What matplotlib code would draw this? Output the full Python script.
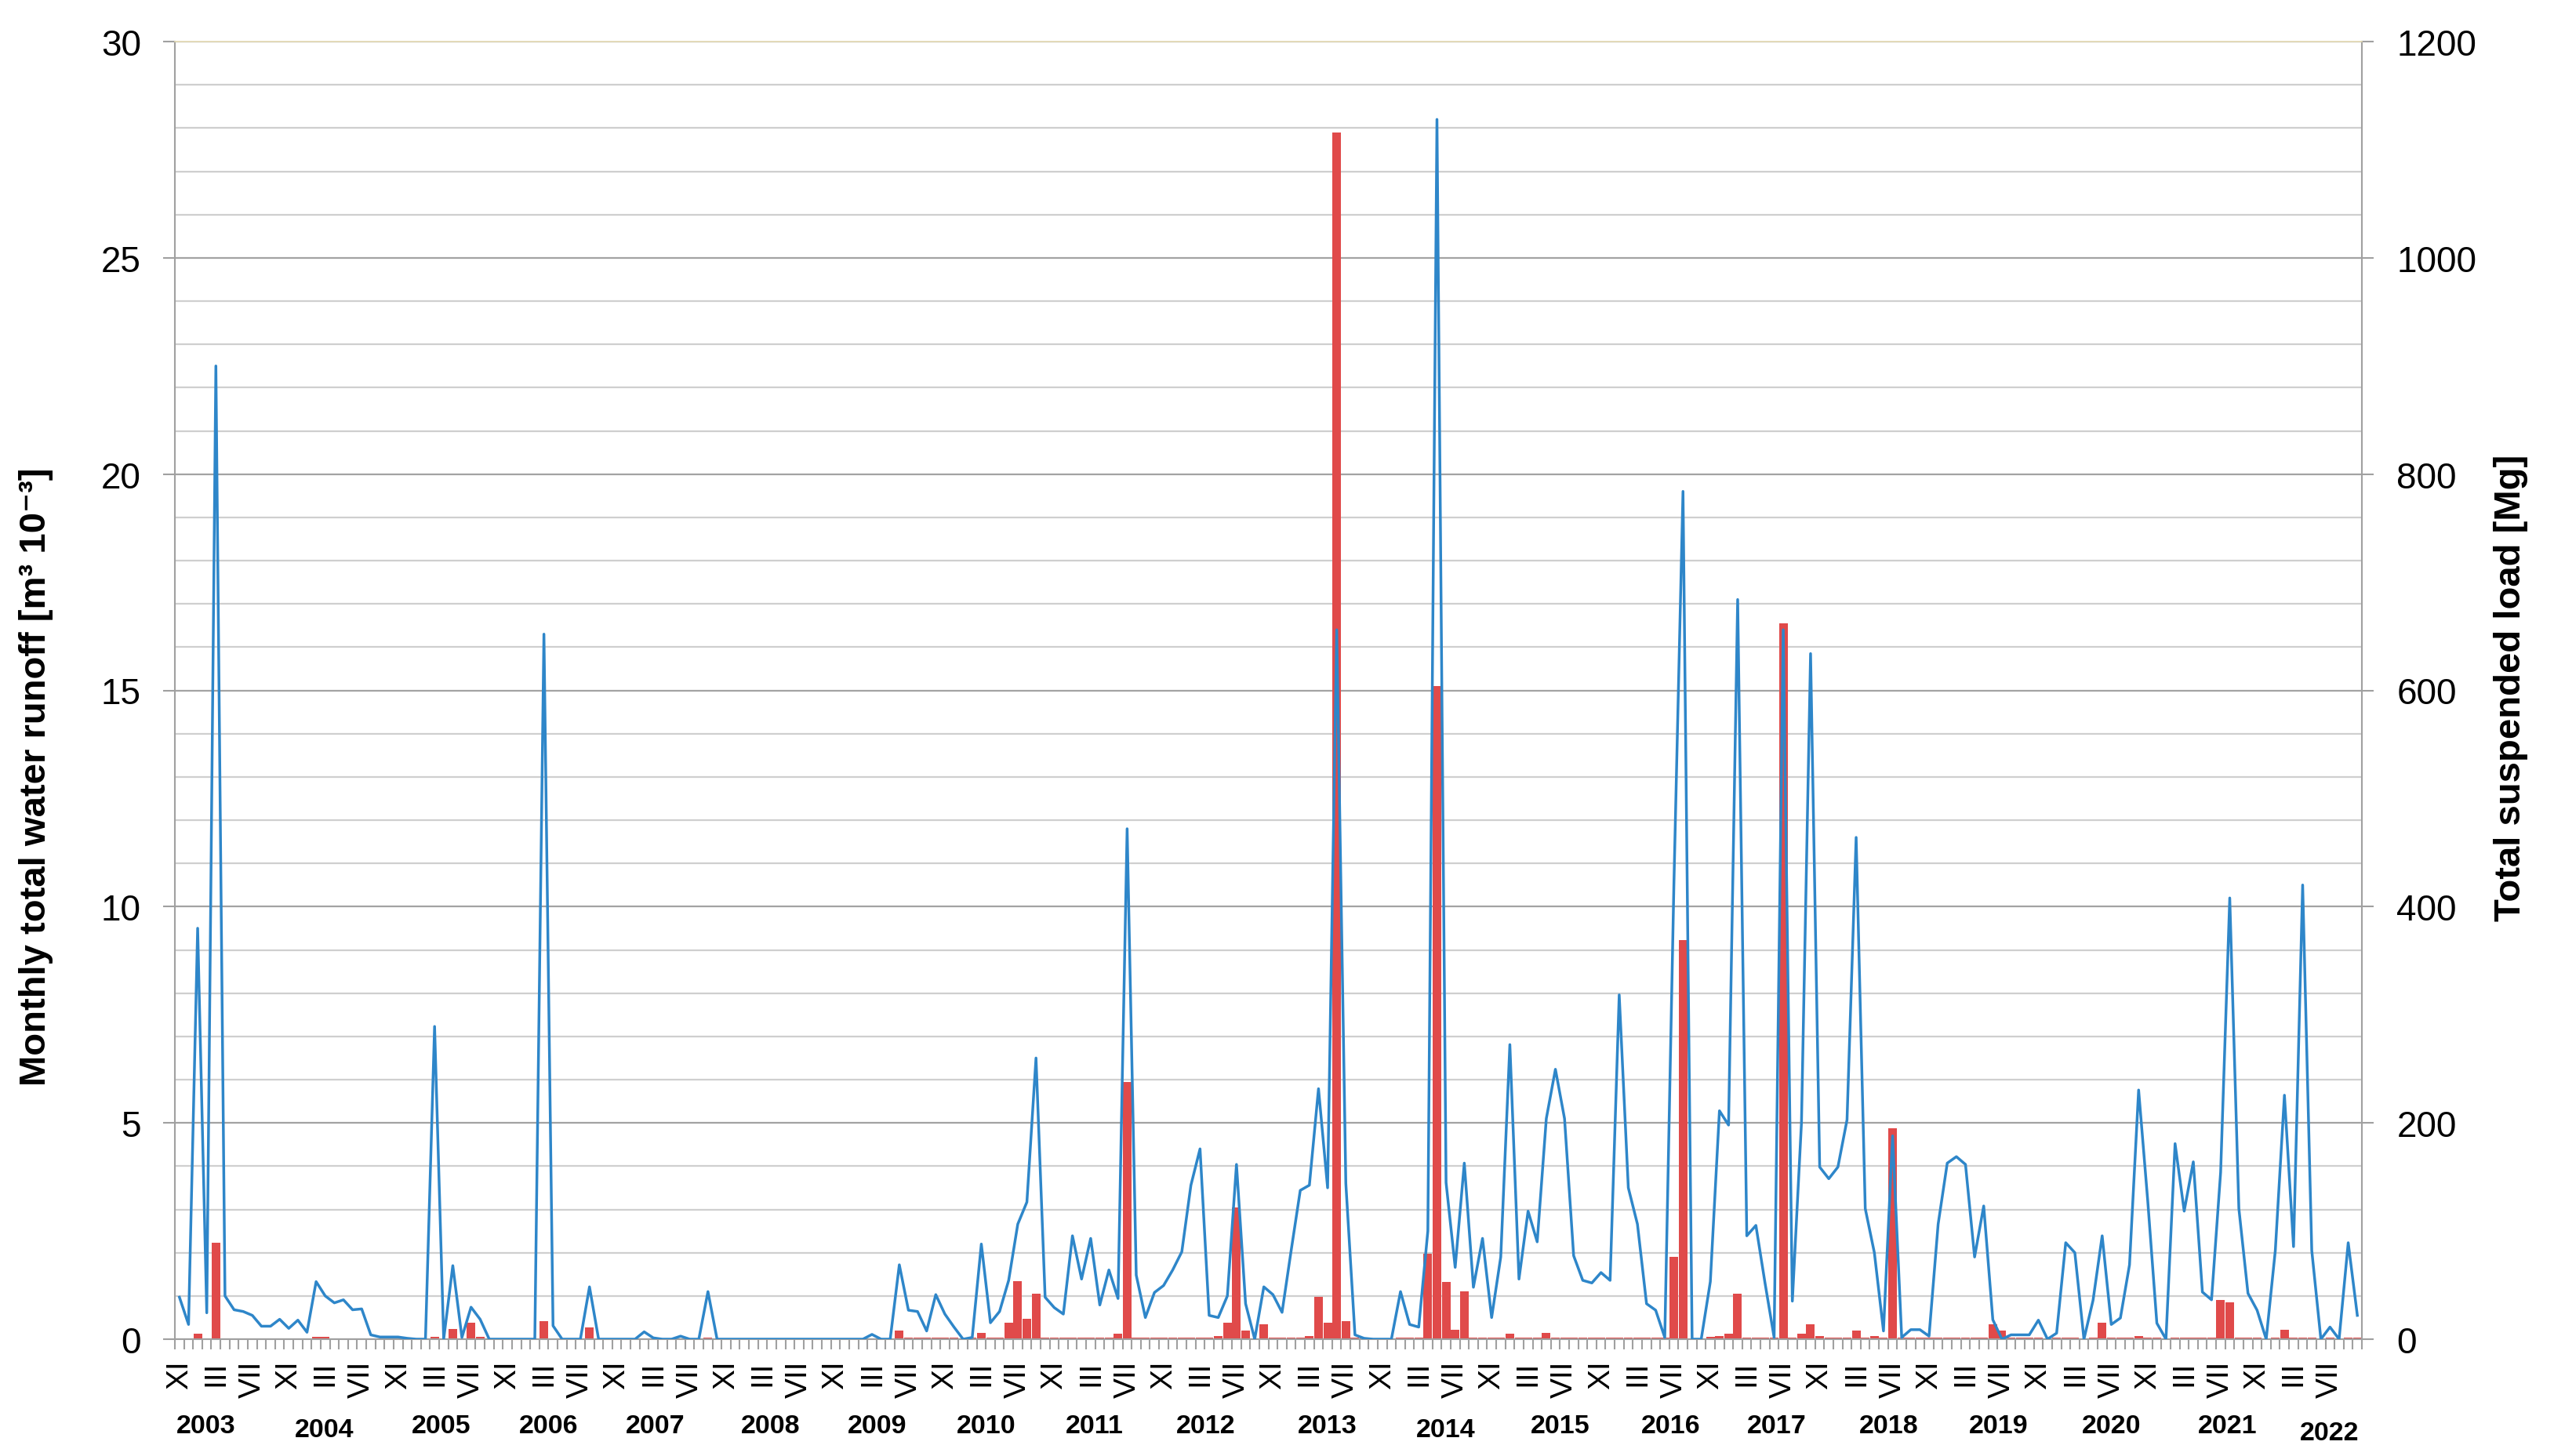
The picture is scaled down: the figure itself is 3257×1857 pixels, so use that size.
import numpy as np
import matplotlib
matplotlib.use("Agg")
import matplotlib.pyplot as plt
from matplotlib.ticker import MultipleLocator, FixedLocator, NullFormatter

plt.rcParams["font.family"] = ["Liberation Sans", "DejaVu Sans"]

# monthly total water runoff, hydrological years XI..X  (left axis)
runoff_2003 = [0.97, 0.34, 9.5, 0.61, 22.5, 1.0, 0.68, 0.64, 0.55, 0.30, 0.30, 0.46]
runoff_2004 = [0.25, 0.44, 0.16, 1.33, 1.0, 0.84, 0.91, 0.68, 0.70, 0.10, 0.05, 0.05]
runoff_2005 = [0.05, 0.02, 0.0, 0.0, 7.23, 0.0, 1.70, 0.04, 0.74, 0.46, 0.0, 0.0]
runoff_2006 = [0.0, 0.0, 0.0, 0.0, 16.3, 0.31, 0.0, 0.0, 0.0, 1.21, 0.0, 0.0]
runoff_2007 = [0.0, 0.0, 0.0, 0.17, 0.03, 0.0, 0.0, 0.07, 0.0, 0.0, 1.10, 0.0]
runoff_2008 = [0.0, 0.0, 0.0, 0.0, 0.0, 0.0, 0.0, 0.0, 0.0, 0.0, 0.0, 0.0]
runoff_2009 = [0.0, 0.0, 0.0, 0.0, 0.11, 0.0, 0.0, 1.72, 0.67, 0.64, 0.19, 1.03]
runoff_2010 = [0.58, 0.28, 0.0, 0.04, 2.2, 0.38, 0.64, 1.36, 2.66, 3.17, 6.5, 0.97]
runoff_2011 = [0.73, 0.58, 2.39, 1.39, 2.33, 0.79, 1.6, 0.94, 11.8, 1.48, 0.5, 1.08]
runoff_2012 = [1.24, 1.6, 2.02, 3.56, 4.4, 0.55, 0.5, 1.0, 4.04, 0.82, 0.0, 1.21]
runoff_2013 = [1.03, 0.62, 2.05, 3.44, 3.56, 5.79, 3.5, 16.4, 3.6, 0.1, 0.02, 0.0]
runoff_2014 = [0.0, 0.0, 1.1, 0.34, 0.28, 2.5, 28.2, 3.62, 1.66, 4.07, 1.2, 2.33]
runoff_2015 = [0.5, 1.9, 6.81, 1.39, 2.96, 2.25, 5.1, 6.24, 5.1, 1.93, 1.36, 1.3]
runoff_2016 = [1.54, 1.36, 7.96, 3.5, 2.66, 0.82, 0.67, 0.04, 10.5, 19.6, 0.0, 0.0]
runoff_2017 = [1.33, 5.28, 4.95, 17.1, 2.39, 2.63, 1.3, 0.04, 16.4, 0.88, 5.0, 15.85]
runoff_2018 = [3.98, 3.71, 3.98, 5.07, 11.6, 3.02, 2.0, 0.19, 4.7, 0.04, 0.22, 0.22]
runoff_2019 = [0.07, 2.66, 4.07, 4.22, 4.04, 1.9, 3.08, 0.45, 0.0, 0.1, 0.1, 0.1]
runoff_2020 = [0.44, 0.0, 0.14, 2.23, 2.0, 0.0, 0.9, 2.39, 0.34, 0.49, 1.72, 5.76]
runoff_2021 = [3.2, 0.37, 0.0, 4.52, 2.96, 4.1, 1.09, 0.91, 3.86, 10.2, 3.02, 1.06]
runoff_2022 = [0.67, 0.0, 2.05, 5.64, 2.14, 10.5, 2.05, 0.0, 0.28, 0.0, 2.23, 0.55]

# monthly total suspended load [Mg]  (right axis)
load_2003 = [0, 0, 5, 0, 89, 0, 0, 0, 0, 0, 0, 0]
load_2004 = [0, 0, 0, 2, 2, 0, 0, 0, 0, 0, 0, 0]
load_2005 = [0, 0, 0, 0, 2, 0, 9.4, 0, 15, 2, 0, 0]
load_2006 = [0, 0, 0, 0, 17, 0, 0, 0, 0, 11, 0, 0]
load_2007 = [0, 0, 0, 0, 0, 0, 0, 0, 0, 0, 1.5, 0]
load_2008 = [0, 0, 0, 0, 0, 0, 0, 0, 0, 0, 0, 0]
load_2009 = [0, 0, 0, 0, 1, 0, 0, 8, 1.5, 1.5, 1.5, 1.5]
load_2010 = [1.5, 1.5, 0, 1.5, 6, 1.5, 1.5, 15, 54, 19, 42, 1.5]
load_2011 = [1.5, 1.5, 1.5, 1.5, 1.5, 1.5, 1.5, 5, 238, 1.5, 1.5, 1.5]
load_2012 = [1.5, 1.5, 1.5, 1.5, 1.5, 1.5, 3, 15, 122, 8, 0, 14]
load_2013 = [1.5, 1.5, 1.5, 1.5, 3, 39, 15, 1116, 17, 1.5, 1.5, 0]
load_2014 = [0, 0, 1.5, 1.5, 1.5, 79, 604, 53, 9, 44, 1.5, 1.5]
load_2015 = [1.5, 1.5, 5, 1.5, 1.5, 1.5, 6, 1.5, 1.5, 1.5, 1.5, 1.5]
load_2016 = [1.5, 1.5, 1.5, 1.5, 1.5, 1.5, 1.5, 1.5, 76, 369, 0, 0]
load_2017 = [2, 3, 5, 42, 1.5, 1.5, 1.5, 1.5, 662, 1.5, 5, 14]
load_2018 = [3, 1.5, 1.5, 1.5, 8, 1.5, 3, 1.5, 195, 1.5, 1.5, 1.5]
load_2019 = [1.5, 1.5, 1.5, 1.5, 1.5, 1.5, 1.5, 14, 8, 1.5, 1.5, 1.5]
load_2020 = [1.5, 0, 1.5, 1.5, 1.5, 0, 1.5, 15, 1.5, 1.5, 1.5, 3]
load_2021 = [1.5, 1.5, 0, 1.5, 1.5, 1.5, 1.5, 1.5, 36, 34, 1.5, 1.5]
load_2022 = [1.5, 0, 1.5, 9, 1.5, 1.5, 1.5, 0, 1.5, 0, 1.5, 1.5]

years = ["2003", "2004", "2005", "2006", "2007", "2008", "2009", "2010", "2011", "2012",
         "2013", "2014", "2015", "2016", "2017", "2018", "2019", "2020", "2021", "2022"]
month_labels = ["XI", "III", "VII"]

runoff = (runoff_2003 + runoff_2004 + runoff_2005 + runoff_2006 + runoff_2007 + runoff_2008
          + runoff_2009 + runoff_2010 + runoff_2011 + runoff_2012 + runoff_2013 + runoff_2014
          + runoff_2015 + runoff_2016 + runoff_2017 + runoff_2018 + runoff_2019 + runoff_2020
          + runoff_2021 + runoff_2022)
load = (load_2003 + load_2004 + load_2005 + load_2006 + load_2007 + load_2008
        + load_2009 + load_2010 + load_2011 + load_2012 + load_2013 + load_2014
        + load_2015 + load_2016 + load_2017 + load_2018 + load_2019 + load_2020
        + load_2021 + load_2022)

# where the year captions sit (in month units) - placed by hand in the original
year_x = [2.9, 15.9, 28.7, 40.5, 52.2, 64.9, 76.6, 88.5, 100.4, 112.6,
          126.0, 139.0, 151.5, 163.7, 175.3, 187.6, 199.6, 212.0, 224.8, 235.9]
year_dy = [0, -0.003, 0, 0, 0, 0, 0, 0, 0, 0, 0, -0.003, 0, 0, 0, 0, 0, 0, 0, -0.006]

W, H = 3257, 1858
fig = plt.figure(figsize=(W / 100, H / 100), dpi=100)
ax = fig.add_axes([223 / W, 1 - 1709 / H, (3012 - 223) / W, (1709 - 54) / H])
ax2 = ax.twinx()
ax.set_zorder(ax2.get_zorder() + 1)
ax.patch.set_visible(False)
ax2.patch.set_visible(True)
ax2.patch.set_facecolor("white")

axis_grey = "#a0a0a0"
x = np.arange(len(runoff))

ax2.bar(x, load, width=0.95, color="#e04a4a", zorder=2)
ax.plot(x, runoff, color="#2e86c9", lw=2.5, zorder=3)

# right axis + grid
ax2.set_ylim(0, 1200)
ax2.yaxis.set_major_locator(MultipleLocator(200))
ax2.yaxis.set_minor_locator(MultipleLocator(40))
ax2.set_axisbelow(True)
ax2.grid(which="major", axis="y", color="#a3a3a3", lw=1.6)
ax2.grid(which="minor", axis="y", color="#cfcfcf", lw=1.6)
ax2.tick_params(axis="y", which="major", length=11, width=1.5, color=axis_grey,
                labelsize=33, pad=21)
ax2.tick_params(axis="y", which="minor", length=0)
for s in ax2.spines.values():
    s.set_visible(False)

# left axis
ax.set_ylim(0, 30)
ax.yaxis.set_major_locator(MultipleLocator(5))
ax.tick_params(axis="y", which="major", length=11, width=1.5, color=axis_grey,
               labelsize=33, pad=20)

# category x axis
ax.set_xlim(-0.5, len(runoff) - 0.5)
major_pos = np.arange(0, len(runoff), 4)
ax.xaxis.set_major_locator(FixedLocator(major_pos))
ax.set_xticklabels([month_labels[k % 3] for k in range(len(major_pos))],
                   rotation=90, fontsize=28)
ax.xaxis.set_minor_locator(FixedLocator(np.arange(-0.5, len(runoff), 1)))
ax.xaxis.set_minor_formatter(NullFormatter())
ax.tick_params(axis="x", which="major", length=0, pad=19)
ax.tick_params(axis="x", which="minor", length=9.5, width=1.5, color=axis_grey)

for side in ["left", "right", "bottom"]:
    ax.spines[side].set_color(axis_grey)
    ax.spines[side].set_linewidth(1.5)
ax.spines["top"].set_color("#e6dcb4")
ax.spines["top"].set_linewidth(1.2)

for yr, xp, dy in zip(years, year_x, year_dy):
    ax.text(xp, -0.0665 + dy, yr, transform=ax.get_xaxis_transform(),
            ha="center", va="center", fontsize=24.5, fontweight="bold")

fig.text(46 / W, 0.4666, "Monthly total water runoff [m³ 10⁻³]", rotation=90,
         ha="center", va="center", fontsize=34, fontweight="bold")
fig.text(3202 / W, 0.528, "Total suspended load [Mg]", rotation=90,
         ha="center", va="center", fontsize=34, fontweight="bold")

fig.savefig("out.png", dpi=100, facecolor="white")
